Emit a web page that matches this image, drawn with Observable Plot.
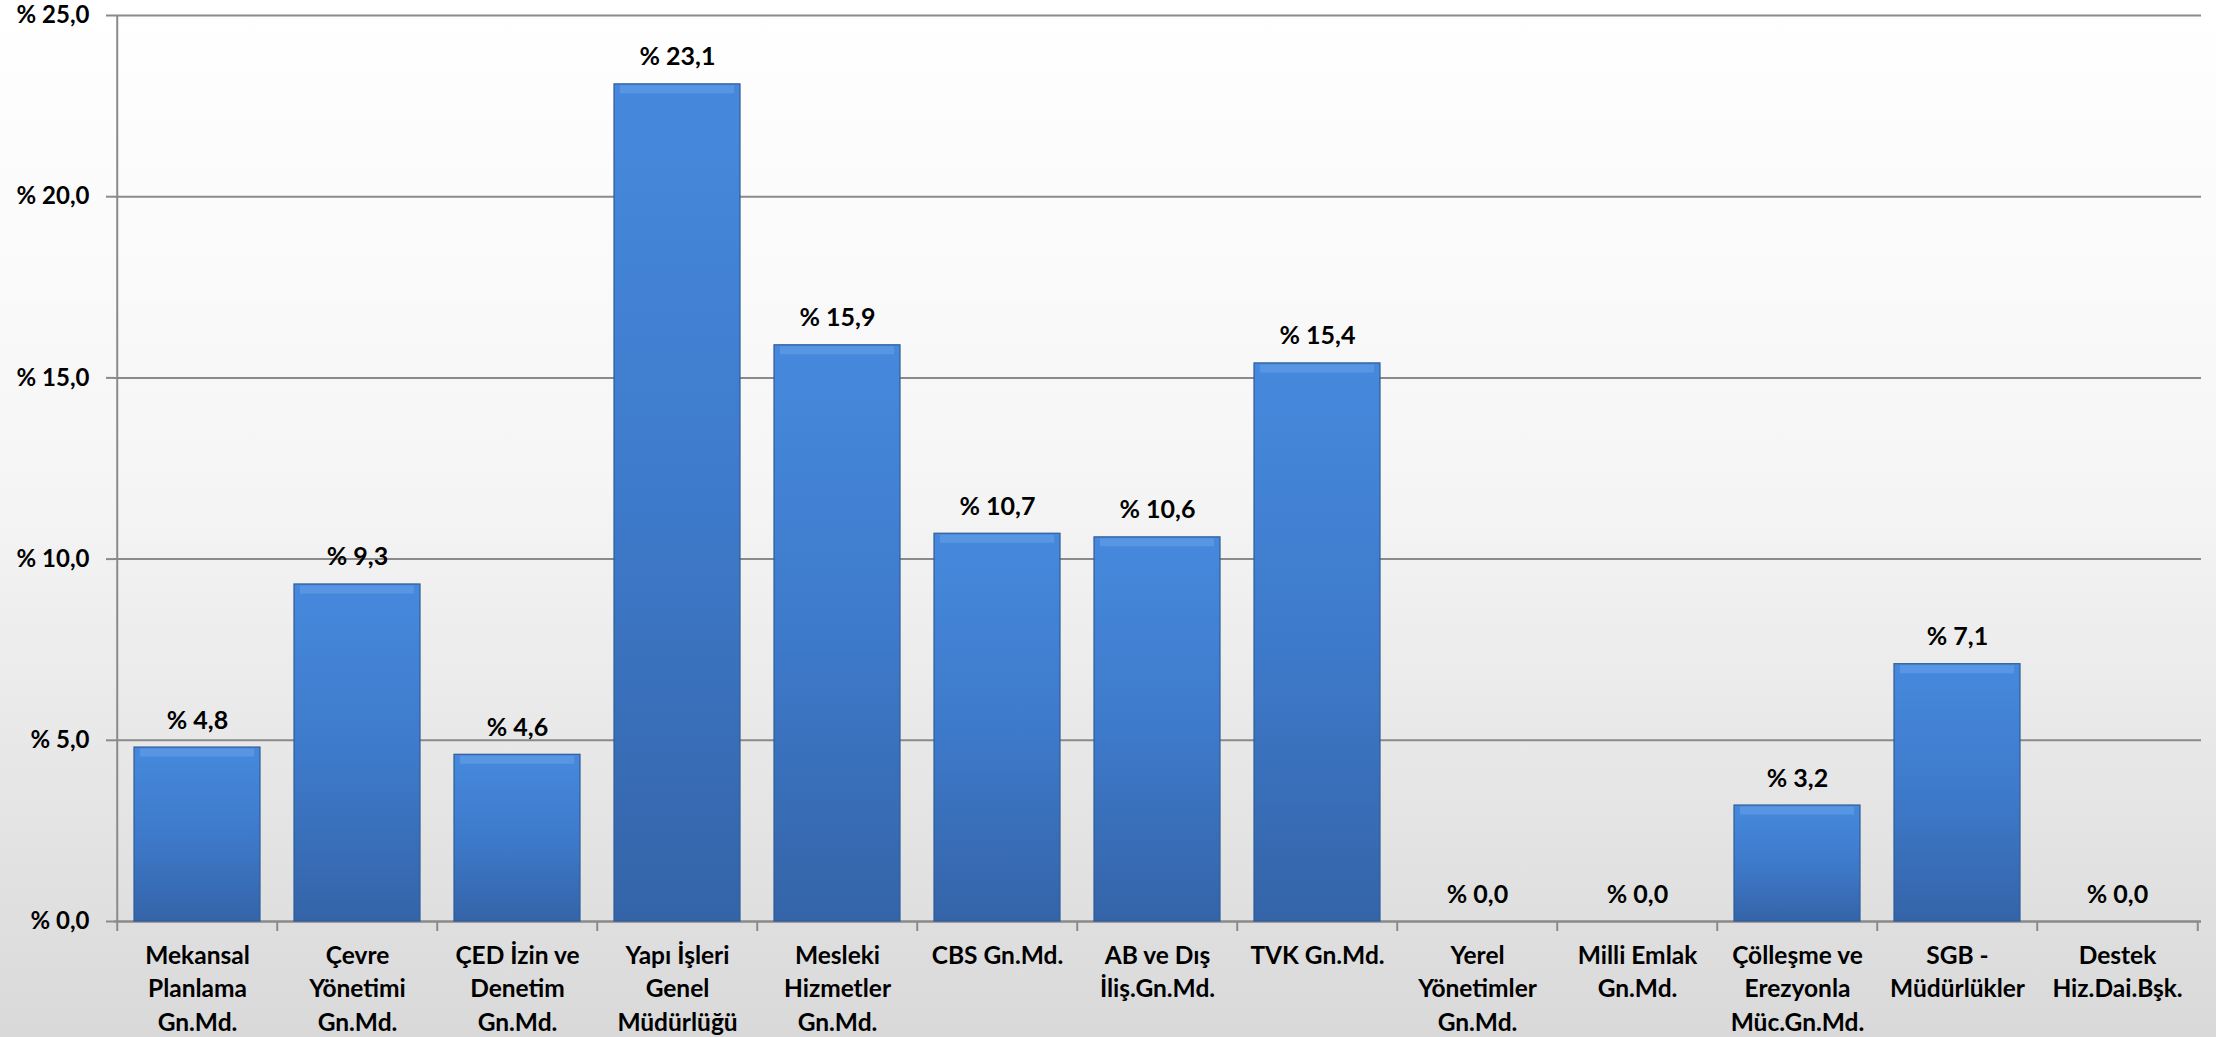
<!DOCTYPE html>
<html>
<head>
<meta charset="utf-8">
<script src="https://cdn.jsdelivr.net/npm/d3@7"></script>
<script src="https://cdn.jsdelivr.net/npm/@observablehq/plot@0.6"></script>
<style>
  html, body { margin: 0; padding: 0; }
  body { width: 2216px; height: 1037px; overflow: hidden;
         background: linear-gradient(to bottom, #ffffff 0%, #f6f6f6 45%, #d9d9d9 100%); }
  svg { display: block; }
</style>
</head>
<body>
<div id="chart"></div>
<script>
const categories = [
  "Mekansal\nPlanlama\nGn.Md.",
  "Çevre\nYönetimi\nGn.Md.",
  "ÇED İzin ve\nDenetim\nGn.Md.",
  "Yapı İşleri\nGenel\nMüdürlüğü",
  "Mesleki\nHizmetler\nGn.Md.",
  "CBS Gn.Md.",
  "AB ve Dış\nİliş.Gn.Md.",
  "TVK Gn.Md.",
  "Yerel\nYönetimler\nGn.Md.",
  "Milli Emlak\nGn.Md.",
  "Çölleşme ve\nErezyonla\nMüc.Gn.Md.",
  "SGB -\nMüdürlükler",
  "Destek\nHiz.Dai.Bşk."
];
const values = [4.8, 9.3, 4.6, 23.1, 15.9, 10.7, 10.6, 15.4, 0.0, 0.0, 3.2, 7.1, 0.0];
const yTicks = [0, 5, 10, 15, 20, 25];

const data = categories.map((c, i) => ({category: c, value: values[i]}));
const fmt = v => "% " + v.toFixed(1).replace(".", ",");

const W = 2216, H = 1037, mL = 114, mR = 15, mT = 15, mB = 116;
const step = (W - mL - mR) / categories.length;
const gray = "#8a8a8a";

const plot = Plot.plot({
  width: W, height: H,
  marginTop: mT, marginBottom: mB, marginLeft: mL, marginRight: mR,
  style: {background: "transparent", fontFamily: "Lato, 'Open Sans', sans-serif", fontWeight: "bold", fontSize: "24px", color: "#000"},
  x: {domain: categories, paddingInner: 0.21, paddingOuter: 0.105, label: null},
  y: {domain: [0, 25], label: null},
  marks: [
    Plot.gridY(yTicks, {stroke: gray, strokeOpacity: 1, strokeWidth: 2}),
    Plot.axisY({ticks: yTicks, tickSize: 8, tickPadding: 17, tickFormat: fmt, stroke: gray, strokeWidth: 2, fill: "#000", fontSize: 24, fontWeight: "bold", label: null}),
    Plot.ruleX([categories[0]], {x: d => d, dx: -step / 2, stroke: gray, strokeWidth: 2}),
    Plot.ruleY([0], {stroke: gray, strokeWidth: 2}),
    Plot.axisX({tickSize: 10, tickFormat: () => "", dx: -step / 2, stroke: gray, strokeWidth: 2, label: null}),
    Plot.axisX({ticks: [categories[categories.length - 1]], tickSize: 10, tickFormat: () => "", dx: step / 2, stroke: gray, strokeWidth: 2, label: null}),
    Plot.axisX({tickSize: 0, tickPadding: 18, lineHeight: 1.38, fill: "#000", fontSize: 24.5, fontWeight: "bold", label: null}),
    Plot.barY(data.filter(d => d.value > 0), {x: "category", y: "value", fill: "url(#barGrad)", stroke: "#2f5c98", strokeWidth: 1.2}),
    Plot.tickY(data.filter(d => d.value > 0), {x: "category", y: "value", dy: 5, stroke: "#5c99e4", strokeWidth: 8, strokeOpacity: 0.85, insetLeft: 6, insetRight: 6}),
    Plot.text(data, {x: "category", y: "value", text: d => fmt(d.value), lineAnchor: "bottom", dy: -19, fill: "#000", fontSize: 25, fontWeight: "bold"})
  ]
});

const svg = d3.select(plot);
const defs = svg.insert("defs", ":first-child");
const g = defs.append("linearGradient").attr("id", "barGrad").attr("x1", 0).attr("y1", 0).attr("x2", 0).attr("y2", 1);
g.append("stop").attr("offset", "0%").attr("stop-color", "#4689dc");
g.append("stop").attr("offset", "50%").attr("stop-color", "#3e7acb");
g.append("stop").attr("offset", "100%").attr("stop-color", "#3464a8");

document.getElementById("chart").appendChild(plot);
</script>
</body>
</html>
